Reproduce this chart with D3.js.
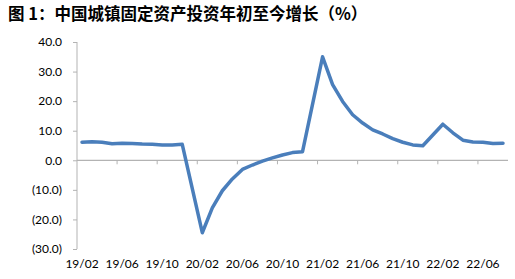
<!DOCTYPE html>
<html>
<head>
<meta charset="utf-8">
<script src="https://cdn.jsdelivr.net/npm/d3@7"></script>
<style>
  body { margin: 0; background: #fff; }
  svg { display: block; }
</style>
</head>
<body>
<div id="chart"></div>
<script>
"use strict";

// months from 19/02 to 22/08, Jan has no own print (Jan-Feb reported together)
var months = [
  "19/02", "19/03", "19/04", "19/05", "19/06", "19/07", "19/08", "19/09", "19/10", "19/11", "19/12",
  "20/01", "20/02", "20/03", "20/04", "20/05", "20/06", "20/07", "20/08", "20/09", "20/10", "20/11", "20/12",
  "21/01", "21/02", "21/03", "21/04", "21/05", "21/06", "21/07", "21/08", "21/09", "21/10", "21/11", "21/12",
  "22/01", "22/02", "22/03", "22/04", "22/05", "22/06", "22/07", "22/08"
];

// FAI growth, year to date (%)
var faiYtd = [
  6.1, 6.3, 6.1, 5.6, 5.8, 5.7, 5.5, 5.4, 5.2, 5.2, 5.4,
  null, -24.5, -16.1, -10.3, -6.3, -3.1, -1.6, -0.3, 0.8, 1.8, 2.6, 2.9,
  null, 35.0, 25.6, 19.9, 15.4, 12.6, 10.3, 8.9, 7.3, 6.1, 5.2, 4.9,
  null, 12.2, 9.3, 6.8, 6.2, 6.1, 5.7, 5.8
];

var yTicks = [40, 30, 20, 10, 0, -10, -20, -30];
var xLabels = ["19/02", "19/06", "19/10", "20/02", "20/06", "20/10", "21/02", "21/06", "21/10", "22/02", "22/06"];

var width = 515, height = 279;
var margin = { left: 77, right: 7, top: 42, bottom: 30 };

var svg = d3.select("#chart")
  .append("svg")
  .attr("width", width)
  .attr("height", height);

svg.append("text")
  .attr("x", 8)
  .attr("y", 20)
  .style("font-family", "'Noto Sans CJK SC', sans-serif")
  .style("font-weight", "bold")
  .style("font-size", "16.5px")
  .style("fill", "#000")
  .text("图 1：中国城镇固定资产投资年初至今增长（%）");

var x = d3.scaleBand()
  .domain(months)
  .range([margin.left, width - margin.right]);

var y = d3.scaleLinear()
  .domain([-30, 40])
  .range([249, 42]);

function fmt(v) {
  var s = Math.abs(v).toFixed(1);
  return v < 0 ? "(" + s + ")" : s;
}

var axisColor = "#b3b3b3";

// y axis
var yAxis = svg.append("g")
  .attr("transform", "translate(" + margin.left + ",0)")
  .call(d3.axisLeft(y).tickValues(yTicks).tickSize(4).tickPadding(11).tickFormat(fmt));

yAxis.select(".domain").attr("stroke", axisColor).attr("d", "M0," + y(40) + "V" + y(-30));
yAxis.selectAll(".tick line").attr("stroke", axisColor);
yAxis.selectAll(".tick text")
  .style("font-family", "Lato, sans-serif")
  .style("font-size", "12px")
  .style("fill", "#000");

// x axis on zero line, ticks between categories every 4 months
var step = x.step();
var xAxis = svg.append("g").attr("transform", "translate(0," + y(0) + ")");

xAxis.append("line")
  .attr("x1", margin.left)
  .attr("x2", width - margin.right)
  .attr("stroke", axisColor)
  .attr("stroke-width", 1.2);

xAxis.selectAll("line.tk")
  .data(months.filter(function(d, i) { return i > 0 && i % 4 === 0; }))
  .enter()
  .append("line")
  .attr("class", "tk")
  .attr("x1", function(d) { return x(d); })
  .attr("x2", function(d) { return x(d); })
  .attr("y1", 0)
  .attr("y2", 4)
  .attr("stroke", axisColor);

svg.selectAll("text.xlab")
  .data(xLabels)
  .enter()
  .append("text")
  .attr("class", "xlab")
  .attr("x", function(d) { return x(d) + step / 2; })
  .attr("y", 268)
  .attr("text-anchor", "middle")
  .style("font-family", "Lato, sans-serif")
  .style("font-size", "12px")
  .style("fill", "#000")
  .text(function(d) { return d; });

// line, empty months are bridged
var pts = months
  .map(function(m, i) { return { m: m, v: faiYtd[i] }; })
  .filter(function(d) { return d.v !== null; });

var line = d3.line()
  .x(function(d) { return x(d.m) + step / 2; })
  .y(function(d) { return y(d.v); });

svg.append("path")
  .datum(pts)
  .attr("d", line)
  .attr("fill", "none")
  .attr("stroke", "#4a7ebb")
  .attr("stroke-width", 3.5)
  .attr("stroke-linejoin", "round")
  .attr("stroke-linecap", "round");
</script>
</body>
</html>
